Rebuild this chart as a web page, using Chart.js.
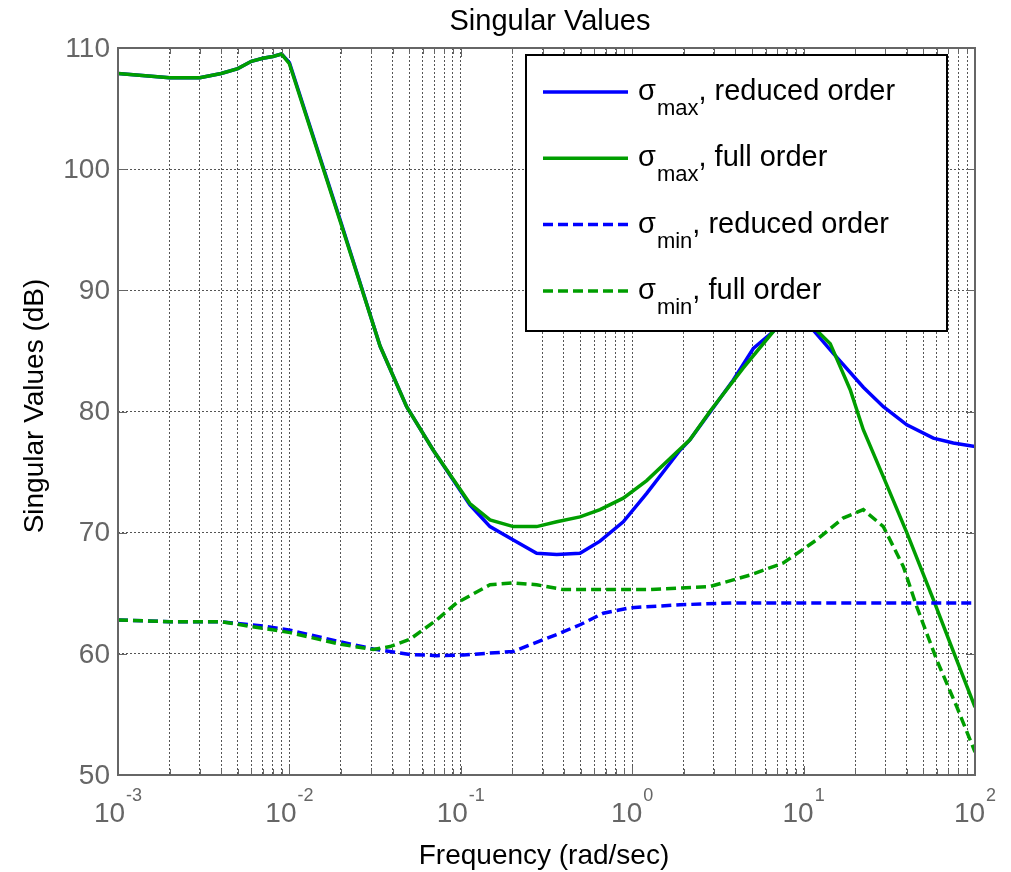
<!DOCTYPE html>
<html>
<head>
<meta charset="utf-8">
<title>Singular Values</title>
<script src="https://cdn.jsdelivr.net/npm/chart.js@4.4.1/dist/chart.umd.min.js"></script>
<style>
  html, body { margin: 0; padding: 0; background: #fff; }
  canvas { display: block; }
</style>
</head>
<body>
<canvas id="svChart" width="1011" height="872"></canvas>
<script>
// ===============================
// DATA
// ===============================
const maxReducedFreq = [0.001, 0.002, 0.003, 0.004, 0.005, 0.006, 0.007, 0.008, 0.009, 0.01, 0.02, 0.0338, 0.0483, 0.0691, 0.113, 0.148, 0.2025, 0.277, 0.363, 0.496, 0.649, 0.887, 1.215, 1.9, 2.17, 3.89, 5.09, 6.65, 9.2, 11.4, 14.9, 22.3, 29.2, 40, 57.1, 74.7, 100];
const maxReducedDb   = [107.9, 107.55, 107.55, 107.9, 108.3, 108.9, 109.15, 109.3, 109.5, 108.8, 95.6, 85.4, 80.4, 76.8, 72.3, 70.5, 69.4, 68.3, 68.2, 68.3, 69.3, 70.9, 73.25, 76.8, 77.66, 82.6, 85.2, 86.6, 88.8, 86.7, 84.8, 82.0, 80.4, 78.9, 77.8, 77.4, 77.1];

const maxFullFreq = [0.001, 0.002, 0.003, 0.004, 0.005, 0.006, 0.007, 0.008, 0.009, 0.01, 0.02, 0.0338, 0.0483, 0.0691, 0.113, 0.148, 0.2025, 0.277, 0.363, 0.496, 0.649, 0.887, 1.215, 2.17, 2.84, 4.45, 6.65, 9.2, 11.9, 14.3, 18.7, 22.3, 29.2, 40, 57.1, 71.5, 100];
const maxFullDb   = [107.9, 107.55, 107.55, 107.9, 108.3, 108.9, 109.15, 109.3, 109.5, 108.7, 95.5, 85.4, 80.4, 76.8, 72.4, 71.05, 70.5, 70.5, 70.9, 71.3, 71.9, 72.85, 74.3, 77.66, 80.0, 83.6, 86.6, 88.6, 86.7, 85.6, 81.8, 78.5, 74.6, 70.0, 64.5, 60.9, 55.6];

const minReducedFreq = [0.001, 0.002, 0.004, 0.00704, 0.0101, 0.0197, 0.0309, 0.0386, 0.0505, 0.0723, 0.1034, 0.2025, 0.363, 0.496, 0.678, 0.971, 1.9, 3.89, 100];
const minReducedDb   = [62.8, 62.65, 62.65, 62.3, 61.95, 61.0, 60.4, 60.2, 59.95, 59.85, 59.9, 60.2, 61.6, 62.4, 63.35, 63.8, 64.05, 64.2, 64.2];

const minFullFreq = [0.001, 0.002, 0.004, 0.00704, 0.0101, 0.0197, 0.0309, 0.0386, 0.0505, 0.0723, 0.0946, 0.148, 0.2025, 0.277, 0.396, 0.776, 1.27, 2.84, 4.87, 7.61, 11.9, 17.0, 22.3, 29.2, 38.2, 45.7, 59.8, 78.2, 100];
const minFullDb   = [62.8, 62.65, 62.65, 62.1, 61.75, 60.8, 60.35, 60.6, 61.2, 62.8, 64.2, 65.7, 65.85, 65.7, 65.3, 65.3, 65.3, 65.55, 66.5, 67.5, 69.4, 71.2, 71.9, 70.5, 67.2, 63.9, 59.5, 55.65, 51.9];

// legend text pieces: sigma + subscript + tail
const legendSub  = ["max", "max", "min", "min"];
const legendTail = ["reduced order", "full order", "reduced order", "full order"];

// axis ticks
const xDecades = [-3, -2, -1, 0, 1, 2];
const yTicks   = [50, 60, 70, 80, 90, 100, 110];

// ===============================
// STYLE
// ===============================
const BLUE = "#0000ff";
const GREEN = "#009e00";
const AXIS = "#666666";
const GRID = "#555555";
const FONT = "'Liberation Sans', Arial, sans-serif";

// minor + major ticks for the log axis (1..9 per decade)
const xTickValues = [];
xDecades.forEach(function (d, i) {
  const base = Math.pow(10, d);
  const last = i === xDecades.length - 1;
  for (let m = 1; m <= (last ? 1 : 9); m++) {
    xTickValues.push({ value: m * base, major: m === 1 });
  }
});

function pts(fr, db) {
  return fr.map((f, i) => ({ x: f, y: db[i] }));
}

/* ===============================
   AXES DECORATION, LABELS, LEGEND
================================ */
const decor = {
  id: "decor",
  afterDraw(chart) {
    const { ctx, chartArea: a } = chart;
    const xs = chart.scales.x, ys = chart.scales.y;
    ctx.save();

    // tick marks inside the box
    ctx.strokeStyle = AXIS;
    ctx.lineWidth = 1;
    ctx.beginPath();
    xTickValues.forEach(t => {
      const px = Math.round(xs.getPixelForValue(t.value)) + 0.5;
      const len = t.major ? 9 : 6;
      ctx.moveTo(px, a.bottom); ctx.lineTo(px, a.bottom - len);
      ctx.moveTo(px, a.top); ctx.lineTo(px, a.top + len);
    });
    yTicks.forEach(v => {
      const py = Math.round(ys.getPixelForValue(v)) + 0.5;
      ctx.moveTo(a.left, py); ctx.lineTo(a.left + 9, py);
      ctx.moveTo(a.right, py); ctx.lineTo(a.right - 9, py);
    });
    ctx.stroke();

    // box
    ctx.lineWidth = 2;
    ctx.strokeRect(a.left, a.top, a.right - a.left, a.bottom - a.top);

    // y tick labels
    ctx.fillStyle = AXIS;
    ctx.font = "28px " + FONT;
    ctx.textAlign = "right";
    ctx.textBaseline = "middle";
    yTicks.forEach(v => {
      ctx.fillText(String(v), a.left - 8, ys.getPixelForValue(v) + 1);
    });

    // x tick labels, 10 with superscript exponent
    ctx.textAlign = "left";
    ctx.textBaseline = "alphabetic";
    xDecades.forEach(d => {
      const px = xs.getPixelForValue(Math.pow(10, d));
      ctx.font = "28px " + FONT;
      const w1 = ctx.measureText("10").width;
      ctx.font = "18px " + FONT;
      const exp = String(d);
      const w2 = ctx.measureText(exp).width;
      const x0 = px - (w1 + w2 + 1) / 2;
      ctx.font = "28px " + FONT;
      ctx.fillText("10", x0, 822);
      ctx.font = "18px " + FONT;
      ctx.fillText(exp, x0 + w1 + 1, 801);
    });

    // titles
    ctx.fillStyle = "#000";
    ctx.textAlign = "center";
    ctx.font = "29px " + FONT;
    ctx.fillText("Singular Values", 550, 30);
    ctx.font = "28px " + FONT;
    ctx.fillText("Frequency (rad/sec)", 544, 864);
    ctx.save();
    ctx.translate(43, 406);
    ctx.rotate(-Math.PI / 2);
    ctx.fillText("Singular Values (dB)", 0, 0);
    ctx.restore();

    // legend
    const lx = 526, ly = 55, lw = 421, lh = 276;
    ctx.fillStyle = "#fff";
    ctx.fillRect(lx, ly, lw, lh);
    ctx.strokeStyle = "#000";
    ctx.lineWidth = 2;
    ctx.strokeRect(lx, ly, lw, lh);

    chart.data.datasets.forEach((ds, i) => {
      const cy = 92 + i * 66.3;
      ctx.save();
      ctx.strokeStyle = ds.borderColor;
      ctx.lineWidth = ds.borderWidth;
      ctx.setLineDash(ds.borderDash || []);
      ctx.beginPath();
      ctx.moveTo(543, cy);
      ctx.lineTo(628, cy);
      ctx.stroke();
      ctx.restore();

      ctx.fillStyle = "#000";
      ctx.textAlign = "left";
      let tx = 638;
      const base = cy + 8;
      ctx.font = "29px " + FONT;
      ctx.fillText("\u03c3", tx, base);
      tx += ctx.measureText("\u03c3").width + 1;
      ctx.font = "22px " + FONT;
      ctx.fillText(legendSub[i], tx, base + 15);
      tx += ctx.measureText(legendSub[i]).width;
      ctx.font = "29px " + FONT;
      ctx.fillText(", " + legendTail[i], tx, base);
    });

    ctx.restore();
  }
};

new Chart(document.getElementById("svChart"), {
  type: "line",
  data: {
    datasets: [
      {
        label: "\u03c3max, reduced order",
        data: pts(maxReducedFreq, maxReducedDb),
        borderColor: BLUE, borderWidth: 3.5, order: 4
      },
      {
        label: "\u03c3max, full order",
        data: pts(maxFullFreq, maxFullDb),
        borderColor: GREEN, borderWidth: 3.5, order: 3
      },
      {
        label: "\u03c3min, reduced order",
        data: pts(minReducedFreq, minReducedDb),
        borderColor: BLUE, borderWidth: 3.5, borderDash: [10, 5], order: 2
      },
      {
        label: "\u03c3min, full order",
        data: pts(minFullFreq, minFullDb),
        borderColor: GREEN, borderWidth: 3.5, borderDash: [10, 5], order: 1
      }
    ]
  },
  options: {
    responsive: false,
    devicePixelRatio: 1,
    animation: false,
    layout: { padding: { left: 118, right: 36, top: 48, bottom: 97 } },
    elements: {
      point: { radius: 0 },
      line: { tension: 0, fill: false, borderCapStyle: "butt" }
    },
    plugins: {
      legend: { display: false },
      title: { display: false },
      tooltip: { enabled: false }
    },
    scales: {
      x: {
        type: "logarithmic",
        min: 0.001,
        max: 100,
        afterBuildTicks: s => { s.ticks = xTickValues.map(t => ({ value: t.value, major: t.major })); },
        ticks: { display: false },
        grid: { color: GRID, lineWidth: 1, drawTicks: false },
        border: { display: false, dash: [2, 2] }
      },
      y: {
        min: 50,
        max: 110,
        ticks: { display: false, stepSize: 10 },
        grid: { color: GRID, lineWidth: 1, drawTicks: false },
        border: { display: false, dash: [2, 2] }
      }
    }
  },
  plugins: [decor]
});
</script>
</body>
</html>
